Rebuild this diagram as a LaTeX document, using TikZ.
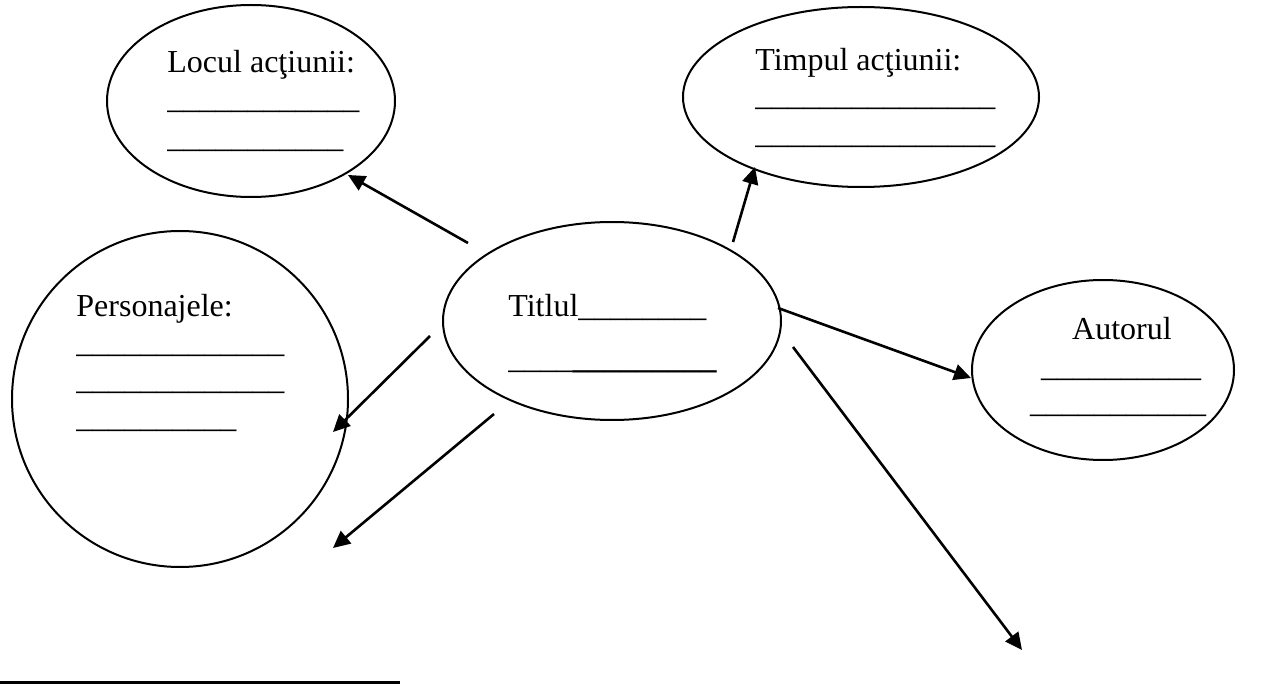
\documentclass[tikz,border=0pt]{standalone}
\usepackage{fontspec}
\setmainfont{Liberation Serif}
\usetikzlibrary{arrows.meta}
\begin{document}
\begin{tikzpicture}[x=0.5pt,y=-0.5pt,
  txt/.style={anchor=base west,inner sep=0pt,font=\fontsize{16pt}{19pt}\selectfont},
  ctxt/.style={anchor=base,inner sep=0pt,font=\fontsize{16pt}{19pt}\selectfont},
  bubbleline/.style={line width=1pt},
  link/.style={line width=1.3pt,-{Triangle[length=8.5pt,width=8pt]}}]
\useasboundingbox (0,0) rectangle (1280,684);
% ellipses
\draw[bubbleline] (251,101) ellipse [x radius=144, y radius=96];
\coordinate (loc) at (251,101);
\draw[bubbleline] (861,97) ellipse [x radius=178, y radius=90];
\coordinate (timp) at (861,97);
\draw[bubbleline] (612,321) ellipse [x radius=169, y radius=99];
\coordinate (tit) at (612,321);
\draw[bubbleline] (180,399) circle [radius=168];
\coordinate (pers) at (180,399);
\draw[bubbleline] (1103,370) ellipse [x radius=131, y radius=90];
\coordinate (aut) at (1103,370);
% texts
\node[txt] (l1) at (167,73) {Locul acţiunii:};
\node[txt] (l2) at (167,109) {\_\_\_\_\_\_\_\_\_\_\_\_};
\node[txt] (l3) at (167,148) {\_\_\_\_\_\_\_\_\_\_\_};
\node[txt] (t1) at (755,71) {Timpul acţiunii:};
\node[txt] (t2) at (755,106) {\_\_\_\_\_\_\_\_\_\_\_\_\_\_\_};
\node[txt] (t3) at (755,144) {\_\_\_\_\_\_\_\_\_\_\_\_\_\_\_};
\node[txt] (ti1) at (508,317) {Titlul\_\_\_\_\_\_\_\_};
\node[txt] (ti2) at (508,369) {\_\_\_\_\textbf{\_\_\_\_\_\_\_\_\_}};
\node[txt] (p1) at (76,316) {Personajele:};
\node[txt] (p2) at (76,352) {\_\_\_\_\_\_\_\_\_\_\_\_\_};
\node[txt] (p3) at (76,389) {\_\_\_\_\_\_\_\_\_\_\_\_\_};
\node[txt] (p4) at (76,427) {\_\_\_\_\_\_\_\_\_\_};
\node[ctxt] (a1) at (1122,340) {Autorul};
\node[ctxt] (a2) at (1121,376) {\_\_\_\_\_\_\_\_\_\_};
\node[ctxt] (a3) at (1118,412) {\_\_\_\_\_\_\_\_\_\_\_};
% arrow end points
\coordinate (s1) at (468,243); \coordinate (e1) at (348,175);
\coordinate (s2) at (733,242); \coordinate (e2) at (755,167);
\coordinate (s3) at (430,336); \coordinate (e3) at (333,432);
\coordinate (s4) at (494,414); \coordinate (e4) at (333,548);
\coordinate (s5) at (778,308); \coordinate (e5) at (971,378);
\coordinate (s6) at (793,347); \coordinate (e6) at (1022,650);
\draw[link] (s1) -- (e1);
\draw[link] (s2) -- (e2);
\draw[link] (s3) -- (e3);
\draw[link] (s4) -- (e4);
\draw[link] (s5) -- (e5);
\draw[link] (s6) -- (e6);
% footnote rule
\coordinate (f1) at (0,682); \coordinate (f2) at (400,682);
\draw[line width=1.5pt] (f1) -- (f2);
\end{tikzpicture}
\end{document}
